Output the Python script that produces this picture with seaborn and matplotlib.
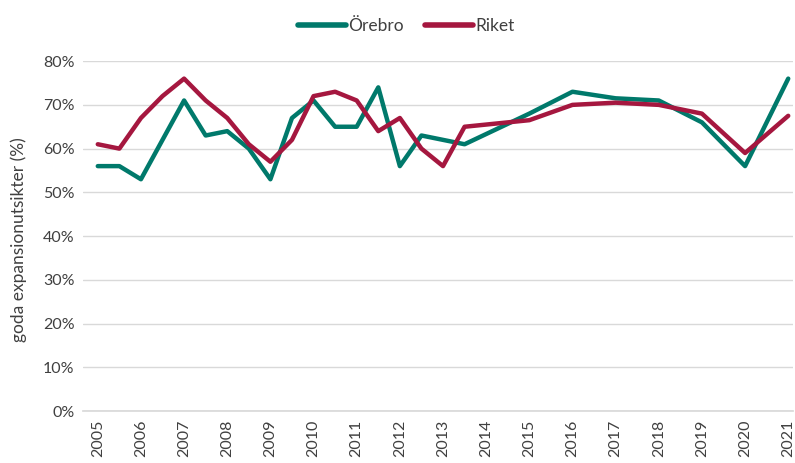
import matplotlib
matplotlib.use("Agg")
import matplotlib.pyplot as plt
import matplotlib.ticker as mticker
import pandas as pd
import seaborn as sns

# half-year points up to 2013.5, then yearly
years = [2005, 2005.5, 2006, 2006.5, 2007, 2007.5, 2008, 2008.5, 2009, 2009.5,
         2010, 2010.5, 2011, 2011.5, 2012, 2012.5, 2013, 2013.5,
         2015, 2016, 2017, 2018, 2019, 2020, 2021]
orebro = [56, 56, 53, 62, 71, 63, 64, 60, 53, 67,
          71, 65, 65, 74, 56, 63, 62, 61,
          68, 73, 71.5, 71, 66, 56, 76]
riket = [61, 60, 67, 72, 76, 71, 67, 61, 57, 62,
         72, 73, 71, 64, 67, 60, 56, 65,
         66.5, 70, 70.5, 70, 68, 59, 67.5]
tick_years = list(range(2005, 2022))

df = pd.DataFrame({
    "year": years * 2,
    "value": [v / 100 for v in orebro + riket],
    "serie": ["Örebro"] * len(years) + ["Riket"] * len(years),
})

sns.set_theme(style="white")
plt.rcParams["font.family"] = ["Lato", "DejaVu Sans"]

fig = plt.figure(figsize=(7.95, 4.63), dpi=100)
ax = fig.add_axes([0.104, 0.112, 0.894, 0.756])

palette = {"Örebro": "#00796b", "Riket": "#a5173f"}
sns.lineplot(data=df, x="year", y="value", hue="serie", palette=palette,
             linewidth=3.2, ax=ax, solid_capstyle="round", solid_joinstyle="round")

ax.set_ylim(0, 0.8)
ax.set_xlim(2004.65, 2021.12)
ax.set_yticks([i / 10 for i in range(0, 9)])
ax.yaxis.set_major_formatter(mticker.PercentFormatter(1.0, decimals=0))
ax.set_xticks(tick_years)
ax.set_xticklabels([str(y) for y in tick_years], rotation=90)
ax.tick_params(axis="both", labelsize=11.5, colors="#404040", length=0, pad=6)
ax.grid(axis="y", color="#d9d9d9", linewidth=1)
ax.set_axisbelow(True)
for s in ["left", "right", "top"]:
    ax.spines[s].set_visible(False)
ax.spines["bottom"].set_color("#d9d9d9")

ax.set_xlabel("")
ax.set_ylabel("goda expansionutsikter (%)", fontsize=12.5, color="#404040")
ax.yaxis.set_label_coords(-0.078, 0.49)

leg = ax.legend(loc="center", bbox_to_anchor=(0.455, 1.1), ncol=2, frameon=False,
                fontsize=12.5, handlelength=2.8, handletextpad=0.1, columnspacing=1.2)
for t in leg.get_texts():
    t.set_color("#404040")
for h in leg.get_lines():
    h.set_linewidth(4)
    h.set_solid_capstyle("round")

fig.savefig("out.png", dpi=100)
